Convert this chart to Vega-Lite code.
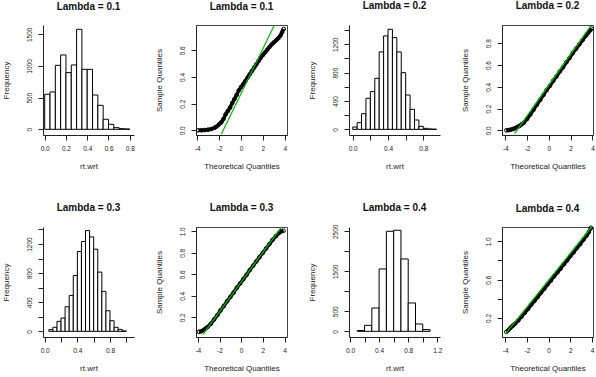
{
  "$schema": "https://vega.github.io/schema/vega-lite/v6.json",
  "background": "white",
  "padding": {"left": 2, "top": 0, "right": 0, "bottom": 0},
  "columns": 4,
  "spacing": {"row": 92, "column": 62},
  "bounds": "flush",
  "datasets": {
    "h1": [
      {"lo": 0.00, "hi": 0.05, "count": 553},
      {"lo": 0.05, "hi": 0.10, "count": 590},
      {"lo": 0.10, "hi": 0.15, "count": 1010},
      {"lo": 0.15, "hi": 0.20, "count": 1174},
      {"lo": 0.20, "hi": 0.25, "count": 895},
      {"lo": 0.25, "hi": 0.30, "count": 1016},
      {"lo": 0.30, "hi": 0.35, "count": 1579},
      {"lo": 0.35, "hi": 0.40, "count": 947},
      {"lo": 0.40, "hi": 0.45, "count": 947},
      {"lo": 0.45, "hi": 0.50, "count": 542},
      {"lo": 0.50, "hi": 0.55, "count": 379},
      {"lo": 0.55, "hi": 0.60, "count": 158},
      {"lo": 0.60, "hi": 0.65, "count": 79},
      {"lo": 0.65, "hi": 0.70, "count": 26},
      {"lo": 0.70, "hi": 0.75, "count": 10},
      {"lo": 0.75, "hi": 0.80, "count": 5}
    ],
    "h3": [
      {"lo": 0.00, "hi": 0.05, "count": 33},
      {"lo": 0.05, "hi": 0.10, "count": 94},
      {"lo": 0.10, "hi": 0.15, "count": 221},
      {"lo": 0.15, "hi": 0.20, "count": 438},
      {"lo": 0.20, "hi": 0.25, "count": 532},
      {"lo": 0.25, "hi": 0.30, "count": 720},
      {"lo": 0.30, "hi": 0.35, "count": 1092},
      {"lo": 0.35, "hi": 0.40, "count": 1318},
      {"lo": 0.40, "hi": 0.45, "count": 1412},
      {"lo": 0.45, "hi": 0.50, "count": 1294},
      {"lo": 0.50, "hi": 0.55, "count": 1092},
      {"lo": 0.55, "hi": 0.60, "count": 800},
      {"lo": 0.60, "hi": 0.65, "count": 485},
      {"lo": 0.65, "hi": 0.70, "count": 282},
      {"lo": 0.70, "hi": 0.75, "count": 132},
      {"lo": 0.75, "hi": 0.80, "count": 42},
      {"lo": 0.80, "hi": 0.85, "count": 14},
      {"lo": 0.85, "hi": 0.90, "count": 5},
      {"lo": 0.90, "hi": 0.95, "count": 2}
    ],
    "h5": [
      {"lo": 0.05, "hi": 0.10, "count": 23},
      {"lo": 0.10, "hi": 0.15, "count": 55},
      {"lo": 0.15, "hi": 0.20, "count": 137},
      {"lo": 0.20, "hi": 0.25, "count": 183},
      {"lo": 0.25, "hi": 0.30, "count": 338},
      {"lo": 0.30, "hi": 0.35, "count": 494},
      {"lo": 0.35, "hi": 0.40, "count": 768},
      {"lo": 0.40, "hi": 0.45, "count": 1097},
      {"lo": 0.45, "hi": 0.50, "count": 1234},
      {"lo": 0.50, "hi": 0.55, "count": 1385},
      {"lo": 0.55, "hi": 0.60, "count": 1298},
      {"lo": 0.60, "hi": 0.65, "count": 1129},
      {"lo": 0.65, "hi": 0.70, "count": 814},
      {"lo": 0.70, "hi": 0.75, "count": 549},
      {"lo": 0.75, "hi": 0.80, "count": 283},
      {"lo": 0.80, "hi": 0.85, "count": 146},
      {"lo": 0.85, "hi": 0.90, "count": 55},
      {"lo": 0.90, "hi": 0.95, "count": 27},
      {"lo": 0.95, "hi": 1.00, "count": 5}
    ],
    "h7": [
      {"lo": 0.1, "hi": 0.2, "count": 20},
      {"lo": 0.2, "hi": 0.3, "count": 150},
      {"lo": 0.3, "hi": 0.4, "count": 583},
      {"lo": 0.4, "hi": 0.5, "count": 1558},
      {"lo": 0.5, "hi": 0.6, "count": 2500},
      {"lo": 0.6, "hi": 0.7, "count": 2525},
      {"lo": 0.7, "hi": 0.8, "count": 1808},
      {"lo": 0.8, "hi": 0.9, "count": 708},
      {"lo": 0.9, "hi": 1.0, "count": 183},
      {"lo": 1.0, "hi": 1.1, "count": 42}
    ],
    "q2": [
      {"t": -3.9, "s": 0.0}, {"t": -3.6, "s": 0.0}, {"t": -3.3, "s": 0.002}, {"t": -3.0, "s": 0.005},
      {"t": -2.7, "s": 0.01}, {"t": -2.4, "s": 0.02}, {"t": -2.2, "s": 0.03}, {"t": -2.0, "s": 0.045},
      {"t": -1.8, "s": 0.06}, {"t": -1.6, "s": 0.085}, {"t": -1.4, "s": 0.12}, {"t": -1.2, "s": 0.145},
      {"t": -1.0, "s": 0.17}, {"t": -0.8, "s": 0.205}, {"t": -0.6, "s": 0.235}, {"t": -0.4, "s": 0.265},
      {"t": -0.2, "s": 0.3}, {"t": 0.0, "s": 0.325}, {"t": 0.2, "s": 0.345}, {"t": 0.4, "s": 0.37},
      {"t": 0.6, "s": 0.395}, {"t": 0.8, "s": 0.42}, {"t": 1.0, "s": 0.445}, {"t": 1.2, "s": 0.47},
      {"t": 1.4, "s": 0.495}, {"t": 1.6, "s": 0.52}, {"t": 1.8, "s": 0.545}, {"t": 2.0, "s": 0.565},
      {"t": 2.2, "s": 0.585}, {"t": 2.4, "s": 0.605}, {"t": 2.6, "s": 0.625}, {"t": 2.8, "s": 0.645},
      {"t": 3.0, "s": 0.66}, {"t": 3.2, "s": 0.675}, {"t": 3.4, "s": 0.69}, {"t": 3.6, "s": 0.71},
      {"t": 3.75, "s": 0.735}, {"t": 3.9, "s": 0.76}
    ],
    "l2": [{"t": -1.8, "s": -0.03, "t2": 3.05, "s2": 0.79}],
    "q4": [
      {"t": -3.9, "s": 0.0}, {"t": -3.7, "s": 0.002}, {"t": -3.5, "s": 0.006}, {"t": -3.3, "s": 0.012},
      {"t": -3.1, "s": 0.02}, {"t": -2.9, "s": 0.03}, {"t": -2.7, "s": 0.04}, {"t": -2.5, "s": 0.055},
      {"t": -2.3, "s": 0.07}, {"t": -2.0, "s": 0.105}, {"t": -1.7, "s": 0.145}, {"t": -1.4, "s": 0.19},
      {"t": -1.1, "s": 0.235}, {"t": -0.8, "s": 0.28}, {"t": -0.5, "s": 0.325}, {"t": -0.2, "s": 0.37},
      {"t": 0.1, "s": 0.41}, {"t": 0.4, "s": 0.455}, {"t": 0.7, "s": 0.495}, {"t": 1.0, "s": 0.54},
      {"t": 1.3, "s": 0.58}, {"t": 1.6, "s": 0.625}, {"t": 1.9, "s": 0.665}, {"t": 2.2, "s": 0.71},
      {"t": 2.5, "s": 0.75}, {"t": 2.8, "s": 0.79}, {"t": 3.1, "s": 0.83}, {"t": 3.4, "s": 0.87},
      {"t": 3.6, "s": 0.895}, {"t": 3.8, "s": 0.92}, {"t": 3.9, "s": 0.935}
    ],
    "l4": [{"t": -3.15, "s": -0.03, "t2": 3.84, "s2": 0.96}],
    "q6": [
      {"t": -3.9, "s": 0.065}, {"t": -3.7, "s": 0.07}, {"t": -3.5, "s": 0.08}, {"t": -3.3, "s": 0.095},
      {"t": -3.1, "s": 0.11}, {"t": -2.8, "s": 0.14}, {"t": -2.5, "s": 0.18}, {"t": -2.2, "s": 0.22},
      {"t": -1.9, "s": 0.265}, {"t": -1.6, "s": 0.305}, {"t": -1.3, "s": 0.35}, {"t": -1.0, "s": 0.39},
      {"t": -0.7, "s": 0.43}, {"t": -0.4, "s": 0.475}, {"t": -0.1, "s": 0.515}, {"t": 0.2, "s": 0.555},
      {"t": 0.5, "s": 0.595}, {"t": 0.8, "s": 0.64}, {"t": 1.1, "s": 0.68}, {"t": 1.4, "s": 0.72},
      {"t": 1.7, "s": 0.76}, {"t": 2.0, "s": 0.8}, {"t": 2.3, "s": 0.84}, {"t": 2.6, "s": 0.88},
      {"t": 2.9, "s": 0.92}, {"t": 3.2, "s": 0.955}, {"t": 3.5, "s": 0.985}, {"t": 3.7, "s": 1.0},
      {"t": 3.9, "s": 1.005}
    ],
    "l6": [{"t": -3.54, "s": 0.039, "t2": 3.69, "s2": 1.037}],
    "q8": [
      {"t": -3.9, "s": 0.055}, {"t": -3.7, "s": 0.075}, {"t": -3.5, "s": 0.1}, {"t": -3.3, "s": 0.12},
      {"t": -3.1, "s": 0.14}, {"t": -2.8, "s": 0.175}, {"t": -2.5, "s": 0.215}, {"t": -2.2, "s": 0.255},
      {"t": -1.9, "s": 0.295}, {"t": -1.6, "s": 0.34}, {"t": -1.3, "s": 0.38}, {"t": -1.0, "s": 0.42},
      {"t": -0.7, "s": 0.465}, {"t": -0.4, "s": 0.505}, {"t": -0.1, "s": 0.55}, {"t": 0.2, "s": 0.59},
      {"t": 0.5, "s": 0.635}, {"t": 0.8, "s": 0.675}, {"t": 1.1, "s": 0.715}, {"t": 1.4, "s": 0.76},
      {"t": 1.7, "s": 0.8}, {"t": 2.0, "s": 0.845}, {"t": 2.3, "s": 0.885}, {"t": 2.6, "s": 0.93},
      {"t": 2.9, "s": 0.97}, {"t": 3.2, "s": 1.015}, {"t": 3.5, "s": 1.06}, {"t": 3.7, "s": 1.095},
      {"t": 3.9, "s": 1.14}
    ],
    "l8": [{"t": -4.0, "s": 0.033, "t2": 3.95, "s2": 1.149}]
  },
  "concat": [
    {
      "width": 91, "height": 110,
      "title": {"text": "Lambda = 0.1", "offset": 13},
      "data": {"name": "h1"},
      "mark": {"type": "bar", "fill": "white", "stroke": "black", "strokeWidth": 1},
      "encoding": {
        "x": {"field": "lo", "type": "quantitative", "scale": {"domain": [-0.016, 0.84], "nice": false, "zero": false},
              "axis": {"values": [0, 0.2, 0.4, 0.6, 0.8], "format": ".1f", "title": "rt.wrt"}},
        "x2": {"field": "hi"},
        "y": {"field": "count", "type": "quantitative", "scale": {"domain": [-90, 1647], "nice": false, "zero": false},
              "axis": {"values": [0, 500, 1000, 1500], "format": "d", "title": "Frequency"}},
        "y2": {"datum": 0}
      }
    },
    {
      "width": 91, "height": 110,
      "title": {"text": "Lambda = 0.1", "offset": 10.5},
      "view": {"stroke": "#444", "strokeWidth": 1},
      "encoding": {
        "x": {"field": "t", "type": "quantitative", "scale": {"domain": [-4.11, 4.2], "nice": false, "zero": false},
              "axis": {"values": [-4, -2, 0, 2, 4], "labelExpr": "datum.value < 0 ? '-' + abs(datum.value) : '' + datum.value", "title": "Theoretical Quantiles"}},
        "y": {"field": "s", "type": "quantitative", "scale": {"domain": [-0.035, 0.79], "nice": false, "zero": false},
              "axis": {"values": [0, 0.2, 0.4, 0.6], "format": ".1f", "title": "Sample Quantiles"}}
      },
      "layer": [
        {"data": {"name": "q2"}, "mark": {"type": "line", "color": "black", "strokeWidth": 3.5}},
        {"data": {"name": "q2"}, "mark": {"type": "point", "shape": "circle", "filled": false, "color": "black", "size": 14, "strokeWidth": 1, "opacity": 1}},
        {"data": {"name": "l2"}, "mark": {"type": "rule", "color": "#00c000", "strokeWidth": 1.2, "clip": true},
         "encoding": {"x2": {"field": "t2"}, "y2": {"field": "s2"}}}
      ]
    },
    {
      "width": 91, "height": 110,
      "title": {"text": "Lambda = 0.2", "offset": 14.4},
      "data": {"name": "h3"},
      "mark": {"type": "bar", "fill": "white", "stroke": "black", "strokeWidth": 1},
      "encoding": {
        "x": {"field": "lo", "type": "quantitative", "scale": {"domain": [-0.042, 0.989], "nice": false, "zero": false},
              "axis": {"values": [0, 0.2, 0.4, 0.6, 0.8], "labelExpr": "(datum.value == 0.2 || datum.value == 0.6) ? '' : format(datum.value, '.1f')", "title": "rt.wrt"}},
        "x2": {"field": "hi"},
        "y": {"field": "count", "type": "quantitative", "scale": {"domain": [-80, 1472], "nice": false, "zero": false},
              "axis": {"values": [0, 200, 400, 600, 800, 1000, 1200, 1400], "labelExpr": "(datum.value == 0 || datum.value == 400 || datum.value == 800 || datum.value == 1200) ? '' + datum.value : ''", "title": "Frequency"}},
        "y2": {"datum": 0}
      }
    },
    {
      "width": 91, "height": 110,
      "title": {"text": "Lambda = 0.2", "offset": 10.5},
      "view": {"stroke": "#444", "strokeWidth": 1},
      "encoding": {
        "x": {"field": "t", "type": "quantitative", "scale": {"domain": [-4.3, 4.05], "nice": false, "zero": false},
              "axis": {"values": [-4, -2, 0, 2, 4], "labelExpr": "datum.value < 0 ? '-' + abs(datum.value) : '' + datum.value", "title": "Theoretical Quantiles"}},
        "y": {"field": "s", "type": "quantitative", "scale": {"domain": [-0.043, 0.968], "nice": false, "zero": false},
              "axis": {"values": [0, 0.2, 0.4, 0.6, 0.8], "format": ".1f", "title": "Sample Quantiles"}}
      },
      "layer": [
        {"data": {"name": "q4"}, "mark": {"type": "line", "color": "black", "strokeWidth": 3.5}},
        {"data": {"name": "q4"}, "mark": {"type": "point", "shape": "circle", "filled": false, "color": "black", "size": 14, "strokeWidth": 1, "opacity": 1}},
        {"data": {"name": "l4"}, "mark": {"type": "rule", "color": "#00c000", "strokeWidth": 1.2, "clip": true},
         "encoding": {"x2": {"field": "t2"}, "y2": {"field": "s2"}}}
      ]
    },
    {
      "width": 91, "height": 110,
      "title": {"text": "Lambda = 0.3", "offset": 14.4},
      "data": {"name": "h5"},
      "mark": {"type": "bar", "fill": "white", "stroke": "black", "strokeWidth": 1},
      "encoding": {
        "x": {"field": "lo", "type": "quantitative", "scale": {"domain": [-0.021, 1.094], "nice": false, "zero": false},
              "axis": {"values": [0, 0.2, 0.4, 0.6, 0.8, 1.0], "labelExpr": "(datum.value == 0 || datum.value == 0.4 || datum.value == 0.8) ? format(datum.value, '.1f') : ''", "title": "rt.wrt"}},
        "x2": {"field": "hi"},
        "y": {"field": "count", "type": "quantitative", "scale": {"domain": [-78, 1434], "nice": false, "zero": false},
              "axis": {"values": [0, 200, 400, 600, 800, 1000, 1200, 1400], "labelExpr": "(datum.value == 0 || datum.value == 400 || datum.value == 800 || datum.value == 1200) ? '' + datum.value : ''", "title": "Frequency"}},
        "y2": {"datum": 0}
      }
    },
    {
      "width": 91, "height": 110,
      "title": {"text": "Lambda = 0.3", "offset": 10.5},
      "view": {"stroke": "#444", "strokeWidth": 1},
      "encoding": {
        "x": {"field": "t", "type": "quantitative", "scale": {"domain": [-4.17, 4.23], "nice": false, "zero": false},
              "axis": {"values": [-4, -2, 0, 2, 4], "labelExpr": "datum.value < 0 ? '-' + abs(datum.value) : '' + datum.value", "title": "Theoretical Quantiles"}},
        "y": {"field": "s", "type": "quantitative", "scale": {"domain": [0.017, 1.04], "nice": false, "zero": false},
              "axis": {"values": [0.2, 0.4, 0.6, 0.8, 1.0], "format": ".1f", "title": "Sample Quantiles"}}
      },
      "layer": [
        {"data": {"name": "q6"}, "mark": {"type": "line", "color": "black", "strokeWidth": 3.5}},
        {"data": {"name": "q6"}, "mark": {"type": "point", "shape": "circle", "filled": false, "color": "black", "size": 14, "strokeWidth": 1, "opacity": 1}},
        {"data": {"name": "l6"}, "mark": {"type": "rule", "color": "#00c000", "strokeWidth": 1.2, "clip": true},
         "encoding": {"x2": {"field": "t2"}, "y2": {"field": "s2"}}}
      ]
    },
    {
      "width": 91, "height": 110,
      "title": {"text": "Lambda = 0.4", "offset": 11.5},
      "data": {"name": "h7"},
      "mark": {"type": "bar", "fill": "white", "stroke": "black", "strokeWidth": 1},
      "encoding": {
        "x": {"field": "lo", "type": "quantitative", "scale": {"domain": [-0.014, 1.237], "nice": false, "zero": false},
              "axis": {"values": [0, 0.2, 0.4, 0.6, 0.8, 1.0, 1.2], "labelExpr": "(datum.value == 0 || datum.value == 0.4 || datum.value == 0.8 || datum.value == 1.2) ? format(datum.value, '.1f') : ''", "title": "rt.wrt"}},
        "x2": {"field": "hi"},
        "y": {"field": "count", "type": "quantitative", "scale": {"domain": [-142, 2607], "nice": false, "zero": false},
              "axis": {"values": [0, 500, 1000, 1500, 2000, 2500], "labelExpr": "(datum.value == 1000 || datum.value == 2000) ? '' : '' + datum.value", "title": "Frequency"}},
        "y2": {"datum": 0}
      }
    },
    {
      "width": 91, "height": 110,
      "title": {"text": "Lambda = 0.4", "offset": 7},
      "view": {"stroke": "#444", "strokeWidth": 1},
      "encoding": {
        "x": {"field": "t", "type": "quantitative", "scale": {"domain": [-4.3, 4.09], "nice": false, "zero": false},
              "axis": {"values": [-4, -2, 0, 2, 4], "labelExpr": "datum.value < 0 ? '-' + abs(datum.value) : '' + datum.value", "title": "Theoretical Quantiles"}},
        "y": {"field": "s", "type": "quantitative", "scale": {"domain": [0.002, 1.149], "nice": false, "zero": false},
              "axis": {"values": [0.2, 0.4, 0.6, 0.8, 1.0], "labelExpr": "(datum.value == 0.4 || datum.value == 0.8) ? '' : format(datum.value, '.1f')", "title": "Sample Quantiles"}}
      },
      "layer": [
        {"data": {"name": "q8"}, "mark": {"type": "line", "color": "black", "strokeWidth": 3.5}},
        {"data": {"name": "q8"}, "mark": {"type": "point", "shape": "circle", "filled": false, "color": "black", "size": 14, "strokeWidth": 1, "opacity": 1}},
        {"data": {"name": "l8"}, "mark": {"type": "rule", "color": "#00c000", "strokeWidth": 1.2, "clip": true},
         "encoding": {"x2": {"field": "t2"}, "y2": {"field": "s2"}}}
      ]
    }
  ],
  "config": {
    "view": {"stroke": null},
    "font": "Liberation Sans",
    "title": {"fontSize": 10, "fontWeight": "bold", "offset": 13, "color": "#111", "font": "Liberation Sans"},
    "axis": {
      "grid": false,
      "domainColor": "#222", "tickColor": "#222", "labelColor": "#222", "titleColor": "#222",
      "labelFont": "Liberation Sans", "titleFont": "Liberation Sans",
      "labelFontSize": 6.5, "titleFontSize": 8, "titleFontWeight": "normal",
      "tickSize": 5, "domainWidth": 1, "tickWidth": 1,
      "labelFlush": false, "labelOverlap": false
    },
    "axisY": {"labelAngle": 270, "labelAlign": "center", "labelBaseline": "bottom", "labelPadding": 6, "titlePadding": 16},
    "axisX": {"labelPadding": 5, "titlePadding": 11}
  }
}
